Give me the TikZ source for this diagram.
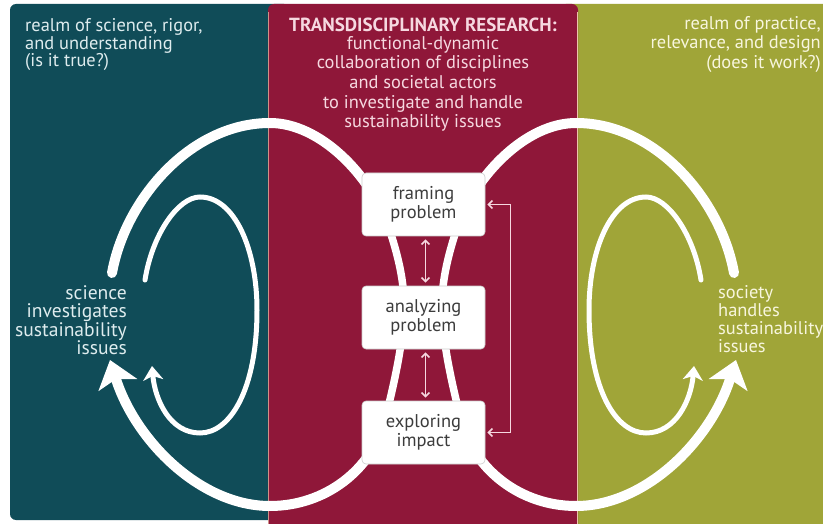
\documentclass[tikz,border=0pt]{standalone}
\usepackage{fontspec}
\setmainfont{PT Sans}
\usetikzlibrary{arrows.meta}
\definecolor{tdteal}{RGB}{16,76,88}
\definecolor{tdred}{RGB}{143,23,57}
\definecolor{tdolive}{RGB}{160,165,56}
\definecolor{tddiv}{RGB}{236,196,170}
\definecolor{tdboxtext}{RGB}{60,60,60}
\definecolor{tdpink}{RGB}{246,216,224}
\definecolor{tdtealtext}{RGB}{222,236,238}
\definecolor{tdolivetext}{RGB}{248,246,222}
\begin{document}
\begin{tikzpicture}[x=1pt,y=-1pt,
  ring/.style={white, line width=10pt, line cap=round},
  colring/.style={white, line width=7.5pt, line cap=round},
  thinring/.style={white, line width=5pt, line cap=round},
  bigtip/.style={-{Stealth[length=26pt,width=40pt,inset=6pt]}},
  smalltip/.style={-{Stealth[length=14pt,width=20pt,inset=4pt]}},
  stepbox/.style={fill=white, draw=black!20, line width=0.6pt, rounded corners=4pt,
    minimum width=123pt, minimum height=63pt, inner sep=0pt, align=center,
    text=tdboxtext, font=\fontsize{18.5}{19}\selectfont},
  link/.style={draw=tdpink, line width=1.6pt,
    {Straight Barb[length=4pt,width=8pt]}-{Straight Barb[length=4pt,width=8pt]}},
  paneltext/.style={inner sep=0pt}
]
\useasboundingbox (0,0) rectangle (823,524);
\fill[white] (0,0) rectangle (823,524);
\begin{scope}
\clip (0,0) rectangle (823,524);
% panels
\fill[tdteal, rounded corners=6pt] (10,4) rectangle (290,520);
\fill[tdolive, rounded corners=6pt] (560,4) rectangle (840,540);
\fill[tdred, rounded corners=6pt] (268,4) rectangle (578,540);
\draw[tddiv!70!tdred, line width=1.2pt] (268.6,12) -- (268.6,524);
\draw[tddiv, line width=1.2pt] (577.4,12) -- (577.4,524);
% left outer ring: top arc, column, bottom arc (joins hidden by boxes)
\draw[ring] (112,273) .. controls (125,200) and (190,123) .. (270,123)
  .. controls (320,123) and (370,175) .. (388,225);
\draw[colring] (388,225) .. controls (398,255) and (404,280) .. (404,305)
  .. controls (404,340) and (395,380) .. (385,420);
\draw[ring, bigtip] (385,420) .. controls (372,470) and (325,506) .. (270,506)
  .. controls (200,506) and (135,440) .. (110,360);
% right outer ring
\draw[ring] (734,273) .. controls (721,200) and (656,123) .. (576,123)
  .. controls (526,123) and (476,175) .. (458,225);
\draw[colring] (458,225) .. controls (448,255) and (442,280) .. (442,305)
  .. controls (442,340) and (451,380) .. (461,420);
\draw[ring, bigtip] (461,420) .. controls (474,470) and (521,506) .. (576,506)
  .. controls (646,506) and (711,440) .. (736,360);
% inner loops
\draw[thinring, smalltip] (145,280) .. controls (152,235) and (178,197) .. (200,197)
  .. controls (235,197) and (257,250) .. (257,310)
  .. controls (257,390) and (230,433) .. (200,433)
  .. controls (170,433) and (155,400) .. (152,366);
\draw[thinring, smalltip] (701,280) .. controls (694,235) and (668,197) .. (646,197)
  .. controls (611,197) and (589,250) .. (589,310)
  .. controls (589,390) and (616,433) .. (646,433)
  .. controls (676,433) and (691,400) .. (694,366);
\end{scope}
% boxes
\node[stepbox] (framing) at (423.5,204.5) {framing\\problem};
\node[stepbox] (analyzing) at (423.5,317.5) {analyzing\\problem};
\node[stepbox] (exploring) at (423.5,432.5) {exploring\\impact};
% links
\draw[link, shorten >=3pt, shorten <=3pt] ([xshift=2pt]framing.south) -- ([xshift=2pt]analyzing.north);
\draw[link, shorten >=3pt, shorten <=3pt] ([xshift=2pt]analyzing.south) -- ([xshift=2pt]exploring.north);
\draw[link, shorten >=2pt, shorten <=2pt] (exploring.east) -- ++(25,0) |- (framing.east);
% texts
\node[paneltext, anchor=north west, align=left, text=tdtealtext, font=\fontsize{18.4}{17.4}\selectfont] (realmsci) at (25,18.5) {realm of science, rigor,\\and understanding\\(is it true?)};
\node[paneltext, anchor=north, text=tdpink, font=\fontsize{19}{20}\selectfont\bfseries] (tdtitle) at (423,18) {TRANSDISCIPLINARY RESEARCH:};
\node[paneltext, anchor=north, align=center, text=tdpink, font=\fontsize{18.4}{19.6}\selectfont] (tdbody) at (423,36) {functional-dynamic\\collaboration of disciplines\\and societal actors\\to investigate and handle\\sustainability issues};
\node[paneltext, anchor=north east, align=right, text=tdolivetext, font=\fontsize{18.4}{19.5}\selectfont] (realmprac) at (821,16) {realm of practice,\\relevance, and design\\(does it work?)};
\node[paneltext, anchor=north east, align=right, text=tdtealtext, font=\fontsize{19.6}{18.3}\selectfont] (sciinv) at (127,285.5) {science\\investigates\\sustainability\\issues};
\node[paneltext, anchor=north west, align=left, text=tdolivetext, font=\fontsize{18.4}{18}\selectfont] (sochand) at (718,285.5) {society\\handles\\sustainability\\issues};
\end{tikzpicture}
\end{document}
